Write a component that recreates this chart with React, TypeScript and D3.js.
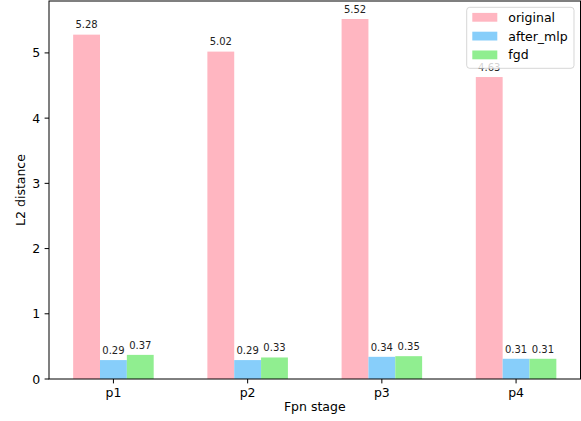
import React from "react";
import * as d3 from "d3";

const categories = ["p1", "p2", "p3", "p4"];
const seriesNames = ["original", "after_mlp", "fgd"];
const original = [5.28, 5.02, 5.52, 4.63];
const afterMlp = [0.29, 0.29, 0.34, 0.31];
const fgd = [0.37, 0.33, 0.35, 0.31];
const colors = ["#FFB6C1", "#87CEFA", "#90EE90"];
const yTicks = [0, 1, 2, 3, 4, 5];

const W = 581;
const H = 421;
const left = 49;
const right = 580.5;
const top = 1;
const bottom = 379;
const barW = 0.2;
const font = "DejaVu Sans, sans-serif";

export default function App() {
  const series = [original, afterMlp, fgd];
  const x = d3.scaleLinear().domain([-0.48, categories.length - 1 + 0.48]).range([left, right]);
  const yMax = d3.max(series.flat())! * 1.05;
  const y = d3.scaleLinear().domain([0, yMax]).range([bottom, top]);
  const tick = 4.4;

  return (
    <svg width={W} height={H} style={{ position: "absolute", left: 0, top: 0, background: "#fff" }} fontFamily={font}>
      <rect x={0} y={0} width={W} height={H} fill="#fff" />
      {series.map((vals, si) =>
        vals.map((v, i) => {
          const cx = i + (si - 1) * barW;
          const x0 = x(cx - barW / 2);
          const x1 = x(cx + barW / 2);
          return (
            <rect key={`b${si}-${i}`} x={x0} y={y(v)} width={x1 - x0} height={y(0) - y(v)} fill={colors[si]} />
          );
        })
      )}
      {series.map((vals, si) =>
        vals.map((v, i) => {
          const cx = i + (si - 1) * barW;
          return (
            <text key={`t${si}-${i}`} x={x(cx)} y={y(v) - 6.2} fontSize={10} textAnchor="middle" fill="#222">
              {v.toFixed(2)}
            </text>
          );
        })
      )}
      {/* spines */}
      <rect x={left} y={top} width={right - left} height={bottom - top} fill="none" stroke="#000" strokeWidth={1} />
      {/* y ticks */}
      {yTicks.map((t) => (
        <g key={`yt${t}`}>
          <line x1={left - tick} x2={left} y1={y(t)} y2={y(t)} stroke="#000" strokeWidth={1} />
          <text x={left - tick - 4.4} y={y(t)} dy="0.36em" fontSize={12.5} textAnchor="end" fill="#000">
            {t}
          </text>
        </g>
      ))}
      {/* x ticks */}
      {categories.map((c, i) => (
        <g key={`xt${c}`}>
          <line x1={x(i)} x2={x(i)} y1={bottom} y2={bottom + tick} stroke="#000" strokeWidth={1} />
          <text x={x(i)} y={bottom + tick + 4.4} dy="0.76em" fontSize={12.5} textAnchor="middle" fill="#000">
            {c}
          </text>
        </g>
      ))}
      <text x={(left + right) / 2} y={411} fontSize={12.5} textAnchor="middle" fill="#000">
        Fpn stage
      </text>
      <text
        transform={`translate(24.5, ${(top + bottom) / 2}) rotate(-90)`}
        fontSize={12.5}
        textAnchor="middle"
        fill="#000"
      >
        L2 distance
      </text>
      {/* legend */}
      <g>
        <rect x={466.7} y={7.3} width={107.3} height={61} rx={3} fill="#fff" fillOpacity={0.8} stroke="#cccccc" strokeOpacity={0.8} strokeWidth={1} />
        {seriesNames.map((n, i) => {
          const cy = 17.3 + i * 18.8;
          return (
            <g key={n}>
              <rect x={472.3} y={cy - 4.4} width={25} height={8.8} fill={colors[i]} />
              <text x={508.3} y={cy} dy="0.36em" fontSize={12.5} fill="#000">
                {n}
              </text>
            </g>
          );
        })}
      </g>
    </svg>
  );
}
